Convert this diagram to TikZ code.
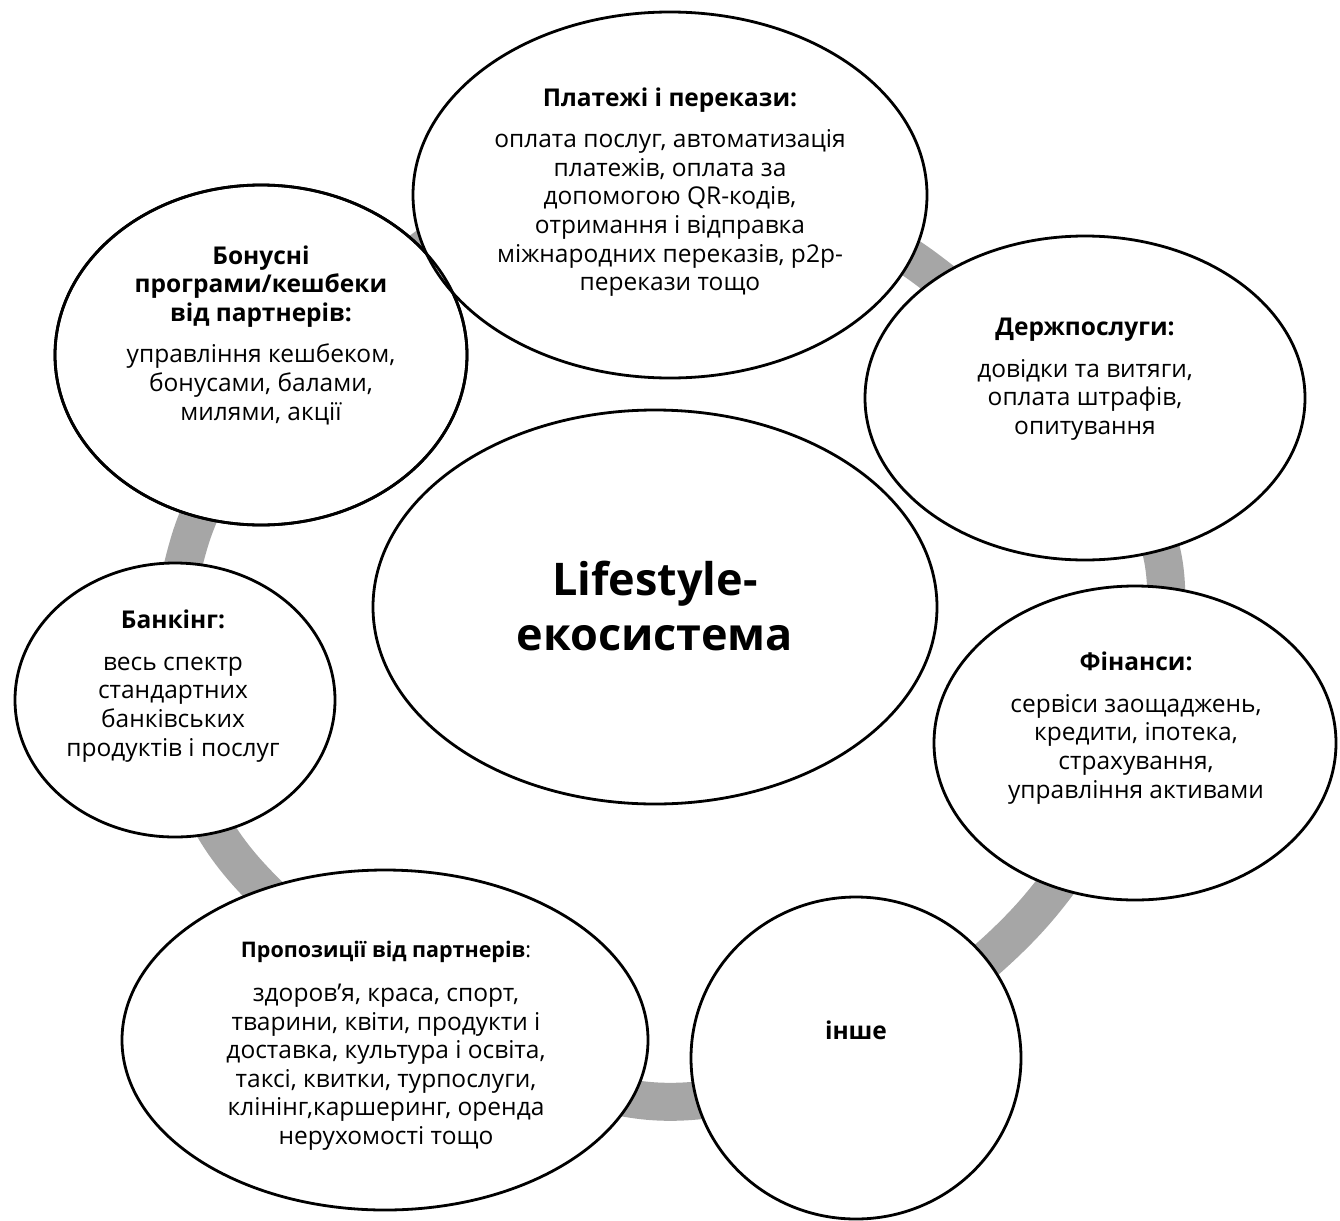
\documentclass[tikz,border=0pt]{standalone}
\usepackage{fontspec}
\setmainfont{Open Sans}
\usetikzlibrary{shapes.geometric}

\definecolor{ringgray}{RGB}{166,166,166}

\begin{document}
\begin{tikzpicture}[x=1pt,y=-1pt,
  bubble/.style={ellipse, draw=black, line width=2.8pt, fill=white, inner sep=0pt},
  body/.style={align=center, inner sep=0pt, font=\fontsize{24.5}{28.6}\selectfont},
  hub/.style={align=center, inner sep=0pt, font=\fontsize{45}{55}\selectfont\bfseries}
]
\useasboundingbox (0,0) rectangle (1340,1220);

% grey ring behind the bubbles
\draw[ringgray, line width=38pt]
  plot[smooth cycle, tension=0.6] coordinates
  {(425,248) (670,197) (925,268) (1164,565) (1022,926) (650,1101) (238,862) (190,540)};

% bubbles
\node[bubble, minimum width=412pt, minimum height=340pt] (bonus) at (261,355) {};
\node[bubble, minimum width=514pt, minimum height=366pt] (pay)   at (670,195) {};
\node[bubble, minimum width=440pt, minimum height=324pt] (gov)   at (1085,398) {};
\node[bubble, minimum width=402pt, minimum height=314pt] (fin)   at (1135,743) {};
\node[bubble, minimum width=320pt, minimum height=274pt] (bank)  at (175,700) {};
\node[bubble, minimum width=526pt, minimum height=340pt] (offer) at (385,1040) {};
\node[bubble, minimum width=330pt, minimum height=322pt] (other) at (856,1058) {};
\node[bubble, minimum width=564pt, minimum height=394pt] (hub)   at (655,607) {};
% outline of the bonus bubble where the payments bubble overlaps it
\draw[line width=2.8pt] (bonus.center) ellipse [x radius=206pt, y radius=170pt];

% texts
\node[body] (paytext) at (670,192) {\textbf{Платежі і перекази:}\\[13pt]
  оплата послуг, автоматизація\\ платежів, оплата за\\ допомогою QR-кодів,\\
  отримання і відправка\\ міжнародних переказів, p2p-\\ перекази тощо};
\node[body] (bonustext) at (261,335) {\textbf{Бонусні}\\ \textbf{програми/кешбеки}\\ \textbf{від партнерів:}\\[13pt]
  управління кешбеком,\\ бонусами, балами,\\ милями, акції};
\node[body] (govtext) at (1085,379) {\textbf{Держпослуги:}\\[13pt]
  довідки та витяги,\\ оплата штрафів,\\ опитування};
\node[body] (fintext) at (1136,728) {\textbf{Фінанси:}\\[13pt]
  сервіси заощаджень,\\ кредити, іпотека,\\ страхування,\\ управління активами};
\node[body] (banktext) at (173,686) {\textbf{Банкінг:}\\[13pt]
  весь спектр\\ стандартних\\ банківських\\ продуктів і послуг};
\node[body] (offertext) at (386,1046) {{\fontsize{21.5}{26}\selectfont\textbf{Пропозиції від партнерів}:}\\[15pt]
  здоров'я, краса, спорт,\\ тварини, квіти, продукти і\\ доставка, культура і освіта,\\
  таксі, квитки, турпослуги,\\ клінінг,каршеринг, оренда\\ нерухомості тощо};
\node[body] (othertext) at (856,1030) {\textbf{інше}};
\node[hub] (hubtext) at (655,606) {Lifestyle-\\ екосистема};
\end{tikzpicture}
\end{document}
